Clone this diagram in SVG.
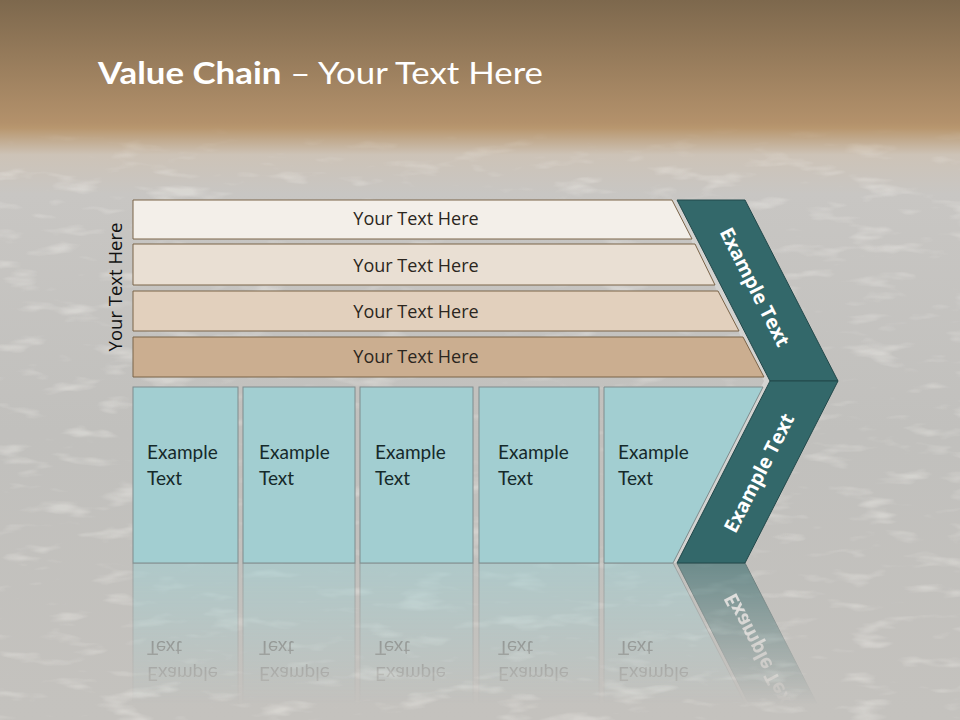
<svg xmlns="http://www.w3.org/2000/svg" width="960" height="720" viewBox="0 0 960 720">
<defs>
  <linearGradient id="bg" x1="0" y1="0" x2="0" y2="1">
    <stop offset="0" stop-color="#7d684d"/>
    <stop offset="0.17" stop-color="#b3916b"/>
    <stop offset="0.178" stop-color="#b8976f"/>
    <stop offset="0.215" stop-color="#cdc3b7"/>
    <stop offset="0.27" stop-color="#c8c6c3"/>
    <stop offset="0.6" stop-color="#c1c0bd"/>
    <stop offset="1" stop-color="#c4c2be"/>
  </linearGradient>
  <linearGradient id="fade" x1="0" y1="0" x2="0" y2="1">
    <stop offset="0" stop-color="#fff" stop-opacity="0.6"/>
    <stop offset="0.9" stop-color="#fff" stop-opacity="0"/>
  </linearGradient>
  <linearGradient id="texfade" x1="0" y1="0" x2="0" y2="1">
    <stop offset="0" stop-color="#fff" stop-opacity="0"/>
    <stop offset="0.08" stop-color="#fff" stop-opacity="1"/>
    <stop offset="1" stop-color="#fff" stop-opacity="1"/>
  </linearGradient>
  <mask id="refmask" maskUnits="userSpaceOnUse" x="0" y="563" width="960" height="157">
    <rect x="0" y="563" width="960" height="157" fill="url(#fade)"/>
  </mask>
  <mask id="texmask" maskUnits="userSpaceOnUse" x="0" y="125" width="960" height="595">
    <rect x="0" y="125" width="960" height="595" fill="url(#texfade)"/>
  </mask>
  <filter id="tex" x="0" y="0" width="1" height="1" filterUnits="objectBoundingBox">
    <feTurbulence type="fractalNoise" baseFrequency="0.02 0.07" numOctaves="3" seed="7" result="n"/>
    <feColorMatrix in="n" type="matrix" values="0 0 0 0 1  0 0 0 0 0.98  0 0 0 0 0.94  3.6 0 0 0 -2.0"/>
  </filter>
  <style>
    .bar { stroke:#7b6448; stroke-width:1; }
    .bt { font-family:"Open Sans","DejaVu Sans",sans-serif; font-size:18px; fill:#2b2620; text-anchor:middle; }
    .box { fill:#a2ced1; stroke:#7f8c8d; stroke-width:1; }
    .et { font-family:Lato,"Liberation Sans",sans-serif; font-size:19px; fill:#15292a; }
    .teal { fill:#33686a; stroke:#22484a; stroke-width:1; }
    .tt { font-family:"Open Sans","DejaVu Sans",sans-serif; font-size:19.5px; font-weight:bold; fill:#ffffff; text-anchor:middle; }
    .gap { fill:#d3d3d1; }
  </style>
</defs>

<rect x="0" y="0" width="960" height="720" fill="url(#bg)"/>
<g mask="url(#texmask)"><rect x="0" y="125" width="960" height="595" filter="url(#tex)" opacity="0.3"/></g>

<text x="98" y="84" font-family="Lato,'Liberation Sans',sans-serif" font-size="31" fill="#ffffff" textLength="445" lengthAdjust="spacingAndGlyphs"><tspan font-weight="bold">Value Chain</tspan> – Your Text Here</text>

<text transform="translate(122 287) rotate(-90)" font-family="'Open Sans','DejaVu Sans',sans-serif" font-size="18.5" fill="#111111" text-anchor="middle">Your Text Here</text>

<g id="reflection" mask="url(#refmask)">
  <g transform="translate(0 1126) scale(1 -1)">
    <rect class="box" x="133" y="387" width="105" height="176"/>
    <rect class="box" x="243" y="387" width="112" height="176"/>
    <rect class="box" x="360" y="387" width="113" height="176"/>
    <rect class="box" x="479" y="387" width="120" height="176"/>
    <polygon class="box" points="604,387 763,387 673,563 604,563"/>
    <polygon class="teal" points="770,381 838,381 745,563 677,563"/>
    <text class="et" x="147" y="459">Example</text><text class="et" x="147" y="485">Text</text>
    <text class="et" x="259" y="459">Example</text><text class="et" x="259" y="485">Text</text>
    <text class="et" x="375" y="459">Example</text><text class="et" x="375" y="485">Text</text>
    <text class="et" x="498" y="459">Example</text><text class="et" x="498" y="485">Text</text>
    <text class="et" x="618" y="459">Example</text><text class="et" x="618" y="485">Text</text>
    <text class="tt" transform="translate(759 473) rotate(-63)" dy="7">Example Text</text>
  </g>
</g>

<g id="gaps">
  <polygon class="gap" points="670,200 678,200 771,381 678,563 670,563 764,381"/>
</g>

<g id="bar1"><polygon class="bar" fill="#f3efe9" points="133,200 672,200 692,239 133,239"/><text class="bt" x="416" y="225">Your Text Here</text></g>
<g id="bar2"><polygon class="bar" fill="#e9dfd3" points="133,244 695,244 715,285 133,285"/><text class="bt" x="416" y="272">Your Text Here</text></g>
<g id="bar3"><polygon class="bar" fill="#e2d0bd" points="133,291 718,291 739,331 133,331"/><text class="bt" x="416" y="318">Your Text Here</text></g>
<g id="bar4"><polygon class="bar" fill="#cbae90" points="133,337 743,337 764,377 133,377"/><text class="bt" x="416" y="363">Your Text Here</text></g>

<g id="box1"><rect class="box" x="133" y="387" width="105" height="176"/><text class="et" x="147" y="459">Example</text><text class="et" x="147" y="485">Text</text></g>
<g id="box2"><rect class="box" x="243" y="387" width="112" height="176"/><text class="et" x="259" y="459">Example</text><text class="et" x="259" y="485">Text</text></g>
<g id="box3"><rect class="box" x="360" y="387" width="113" height="176"/><text class="et" x="375" y="459">Example</text><text class="et" x="375" y="485">Text</text></g>
<g id="box4"><rect class="box" x="479" y="387" width="120" height="176"/><text class="et" x="498" y="459">Example</text><text class="et" x="498" y="485">Text</text></g>
<g id="box5"><polygon class="box" points="604,387 763,387 673,563 604,563"/><text class="et" x="618" y="459">Example</text><text class="et" x="618" y="485">Text</text></g>

<g id="chevron-top"><polygon class="teal" points="677,200 745,200 838,381 770,381"/><text class="tt" transform="translate(755 287) rotate(63)" dy="7">Example Text</text></g>
<g id="chevron-bottom"><polygon class="teal" points="770,381 838,381 745,563 677,563"/><text class="tt" transform="translate(759 473) rotate(-63)" dy="7">Example Text</text></g>

<g id="connectors"></g>
</svg>
